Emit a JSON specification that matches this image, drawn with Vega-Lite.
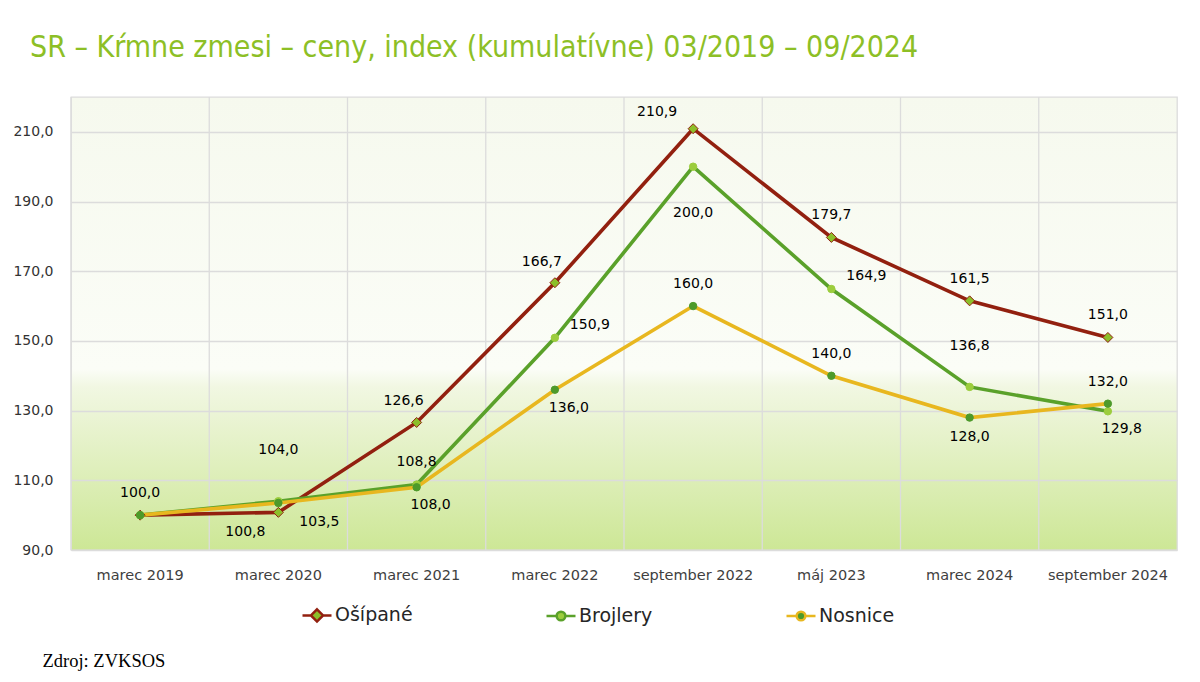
{
  "$schema": "https://vega.github.io/schema/vega-lite/v6.json",
  "width": 1106,
  "height": 453,
  "autosize": {"type": "none"},
  "padding": {"left": 71, "top": 97, "right": 23, "bottom": 132},
  "background": "#ffffff",
  "title": {
    "text": "SR – Kŕmne zmesi – ceny, index (kumulatívne) 03/2019 – 09/2024",
    "anchor": "start",
    "frame": "group",
    "dx": -41,
    "offset": 9,
    "baseline": "alphabetic",
    "font": "DejaVu Sans Condensed, Open Sans",
    "fontSize": 30,
    "fontWeight": "normal",
    "color": "#8dbf26"
  },
  "data": {
    "values": [
      {"obdobie": "marec 2019", "seria": "Ošípané", "hodnota": 100.0},
      {"obdobie": "marec 2020", "seria": "Ošípané", "hodnota": 100.8},
      {"obdobie": "marec 2021", "seria": "Ošípané", "hodnota": 126.6},
      {"obdobie": "marec 2022", "seria": "Ošípané", "hodnota": 166.7},
      {"obdobie": "september 2022", "seria": "Ošípané", "hodnota": 210.9},
      {"obdobie": "máj 2023", "seria": "Ošípané", "hodnota": 179.7},
      {"obdobie": "marec 2024", "seria": "Ošípané", "hodnota": 161.5},
      {"obdobie": "september 2024", "seria": "Ošípané", "hodnota": 151.0},
      {"obdobie": "marec 2019", "seria": "Brojlery", "hodnota": 100.0},
      {"obdobie": "marec 2020", "seria": "Brojlery", "hodnota": 104.0},
      {"obdobie": "marec 2021", "seria": "Brojlery", "hodnota": 108.8},
      {"obdobie": "marec 2022", "seria": "Brojlery", "hodnota": 150.9},
      {"obdobie": "september 2022", "seria": "Brojlery", "hodnota": 200.0},
      {"obdobie": "máj 2023", "seria": "Brojlery", "hodnota": 164.9},
      {"obdobie": "marec 2024", "seria": "Brojlery", "hodnota": 136.8},
      {"obdobie": "september 2024", "seria": "Brojlery", "hodnota": 129.8},
      {"obdobie": "marec 2019", "seria": "Nosnice", "hodnota": 100.0},
      {"obdobie": "marec 2020", "seria": "Nosnice", "hodnota": 103.5},
      {"obdobie": "marec 2021", "seria": "Nosnice", "hodnota": 108.0},
      {"obdobie": "marec 2022", "seria": "Nosnice", "hodnota": 136.0},
      {"obdobie": "september 2022", "seria": "Nosnice", "hodnota": 160.0},
      {"obdobie": "máj 2023", "seria": "Nosnice", "hodnota": 140.0},
      {"obdobie": "marec 2024", "seria": "Nosnice", "hodnota": 128.0},
      {"obdobie": "september 2024", "seria": "Nosnice", "hodnota": 132.0}
    ]
  },
  "encoding": {
    "x": {
      "field": "obdobie",
      "type": "ordinal",
      "sort": ["marec 2019", "marec 2020", "marec 2021", "marec 2022", "september 2022", "máj 2023", "marec 2024", "september 2024"],
      "bandPosition": 0.5,
      "scale": {"type": "band", "paddingInner": 0, "paddingOuter": 0},
      "title": "Zdroj: ZVKSOS",
      "axis": {
        "labelAngle": 0,
        "labelFont": "DejaVu Sans",
        "labelFontSize": 14.5,
        "labelColor": "#404040",
        "labelPadding": 18,
        "ticks": false,
        "domain": false,
        "grid": false,
        "titleFont": "Liberation Serif",
        "titleFontSize": 18.5,
        "titleFontWeight": "normal",
        "titleColor": "#000000",
        "titleAlign": "left",
        "titleBaseline": "alphabetic",
        "titleAnchor": "start",
        "titleX": -29,
        "titleY": 116
      }
    },
    "y": {
      "field": "hodnota",
      "type": "quantitative",
      "scale": {"domain": [90, 220], "nice": false, "zero": false},
      "title": null,
      "axis": {
        "values": [90, 110, 130, 150, 170, 190, 210],
        "format": ".1f",
        "labelFont": "DejaVu Sans",
        "labelFontSize": 14,
        "labelColor": "#333333",
        "labelPadding": 18,
        "ticks": false,
        "domain": false,
        "grid": true,
        "gridColor": "#dcdcdc",
        "gridWidth": 1.3
      }
    }
  },
  "layer": [
    {
      "transform": [{"filter": "datum.seria === 'Ošípané'"}],
      "mark": {"type": "rule", "color": "#dcdcdc", "strokeWidth": 1.3},
      "encoding": {
        "x": {
          "field": "obdobie",
          "type": "ordinal",
          "sort": ["marec 2019", "marec 2020", "marec 2021", "marec 2022", "september 2022", "máj 2023", "marec 2024", "september 2024"],
          "bandPosition": 0,
          "title": "Zdroj: ZVKSOS"
        },
        "y": null
      }
    },
    {
      "mark": {"type": "line", "strokeWidth": 3.6},
      "encoding": {
        "color": {
          "field": "seria",
          "type": "nominal",
          "scale": {"domain": ["Ošípané", "Brojlery", "Nosnice"], "range": ["#92200f", "#5aa12a", "#e8b71f"]},
          "legend": {
            "title": null,
            "orient": "none",
            "direction": "horizontal",
            "legendX": 230,
            "legendY": 502,
            "columnPadding": 128,
            "symbolSize": 841,
            "symbolStrokeWidth": 2.5,
            "labelFont": "DejaVu Sans",
            "labelFontSize": 19,
            "labelColor": "#262626",
            "labelOffset": 2,
            "encode": {
              "symbols": {
                "update": {
                  "shape": {"signal": "datum.value === 'Ošípané' ? 'M-1,0H-0.42M0.42,0H1M0,-0.42L0.42,0L0,0.42L-0.42,0Z' : 'M-1,0H-0.3M0.3,0H1M-0.3,0A0.3,0.3,0,1,1,0.3,0A0.3,0.3,0,1,1,-0.3,0Z'"},
                  "fill": {"signal": "datum.value === 'Ošípané' ? '#8cbf2a' : datum.value === 'Brojlery' ? '#9ccd3d' : '#4d9a2a'"},
                  "stroke": {"signal": "datum.value === 'Ošípané' ? '#92200f' : datum.value === 'Brojlery' ? '#5aa12a' : '#e8b71f'"},
                  "size": {"value": 841},
                  "strokeWidth": {"value": 2.5},
                  "opacity": {"value": 1}
                }
              }
            }
          }
        }
      }
    },
    {
      "transform": [{"filter": "datum.seria === 'Ošípané'"}],
      "mark": {"type": "point", "shape": "diamond", "filled": true, "opacity": 1, "fill": "#8cbf2a", "stroke": "#92200f", "strokeWidth": 1, "size": 100}
    },
    {
      "transform": [{"filter": "datum.seria === 'Brojlery'"}],
      "mark": {"type": "point", "shape": "circle", "filled": true, "opacity": 1, "fill": "#9ccd3d", "stroke": "#9ccd3d", "strokeWidth": 1, "size": 55}
    },
    {
      "transform": [{"filter": "datum.seria === 'Nosnice'"}],
      "mark": {"type": "point", "shape": "circle", "filled": true, "opacity": 1, "fill": "#4d9a2a", "stroke": "#4d9a2a", "strokeWidth": 1, "size": 55}
    },
    {
      "transform": [{"filter": "(datum.seria === 'Ošípané' && indexof(['marec 2019','máj 2023','marec 2024','september 2024'], datum.obdobie) >= 0) || (datum.seria === 'Brojlery' && datum.obdobie === 'marec 2021') || (datum.seria === 'Nosnice' && indexof(['september 2022','máj 2023','september 2024'], datum.obdobie) >= 0)"}],
      "mark": {"type": "text", "dy": -22},
      "encoding": {"text": {"field": "hodnota", "type": "quantitative", "format": ".1f"}}
    },
    {
      "transform": [{"filter": "datum.seria === 'Ošípané' && indexof(['marec 2021','marec 2022'], datum.obdobie) >= 0"}],
      "mark": {"type": "text", "dx": -13, "dy": -21},
      "encoding": {"text": {"field": "hodnota", "type": "quantitative", "format": ".1f"}}
    },
    {
      "transform": [{"filter": "(datum.seria === 'Nosnice' && indexof(['marec 2021','marec 2022'], datum.obdobie) >= 0) || (datum.seria === 'Brojlery' && datum.obdobie === 'september 2024')"}],
      "mark": {"type": "text", "dx": 14, "dy": 18},
      "encoding": {"text": {"field": "hodnota", "type": "quantitative", "format": ".1f"}}
    },
    {
      "transform": [{"filter": "datum.seria === 'Nosnice' && datum.obdobie === 'marec 2024'"}],
      "mark": {"type": "text", "dy": 19},
      "encoding": {"text": {"field": "hodnota", "type": "quantitative", "format": ".1f"}}
    },
    {
      "transform": [{"filter": "datum.seria === 'Brojlery' && indexof(['marec 2022','máj 2023'], datum.obdobie) >= 0"}],
      "mark": {"type": "text", "dx": 35, "dy": -13},
      "encoding": {"text": {"field": "hodnota", "type": "quantitative", "format": ".1f"}}
    },
    {
      "transform": [{"filter": "datum.seria === 'Nosnice' && datum.obdobie === 'marec 2020'"}],
      "mark": {"type": "text", "dx": 41, "dy": 19},
      "encoding": {"text": {"field": "hodnota", "type": "quantitative", "format": ".1f"}}
    },
    {
      "transform": [{"filter": "datum.seria === 'Ošípané' && datum.obdobie === 'marec 2020'"}],
      "mark": {"type": "text", "dx": -33, "dy": 20},
      "encoding": {"text": {"field": "hodnota", "type": "quantitative", "format": ".1f"}}
    },
    {
      "transform": [{"filter": "datum.seria === 'Brojlery' && datum.obdobie === 'marec 2020'"}],
      "mark": {"type": "text", "dy": -51},
      "encoding": {"text": {"field": "hodnota", "type": "quantitative", "format": ".1f"}}
    },
    {
      "transform": [{"filter": "datum.seria === 'Ošípané' && datum.obdobie === 'september 2022'"}],
      "mark": {"type": "text", "dx": -36, "dy": -17},
      "encoding": {"text": {"field": "hodnota", "type": "quantitative", "format": ".1f"}}
    },
    {
      "transform": [{"filter": "datum.seria === 'Brojlery' && datum.obdobie === 'september 2022'"}],
      "mark": {"type": "text", "dy": 46},
      "encoding": {"text": {"field": "hodnota", "type": "quantitative", "format": ".1f"}}
    },
    {
      "transform": [{"filter": "datum.seria === 'Brojlery' && datum.obdobie === 'marec 2024'"}],
      "mark": {"type": "text", "dy": -41},
      "encoding": {"text": {"field": "hodnota", "type": "quantitative", "format": ".1f"}}
    }
  ],
  "config": {
    "locale": {"number": {"decimal": ",", "thousands": " ", "grouping": [3], "currency": ["", " €"]}},
    "view": {
      "stroke": "#dcdcdc",
      "strokeWidth": 1.3,
      "fill": {
        "gradient": "linear",
        "x1": 0, "y1": 0, "x2": 0, "y2": 1,
        "stops": [
          {"offset": 0, "color": "#f6f9ee"},
          {"offset": 0.6, "color": "#fbfdf7"},
          {"offset": 0.64, "color": "#f1f7e2"},
          {"offset": 1, "color": "#cde796"}
        ]
      }
    },
    "text": {"font": "DejaVu Sans", "fontSize": 14, "color": "#000000", "align": "center", "baseline": "middle"}
  }
}
